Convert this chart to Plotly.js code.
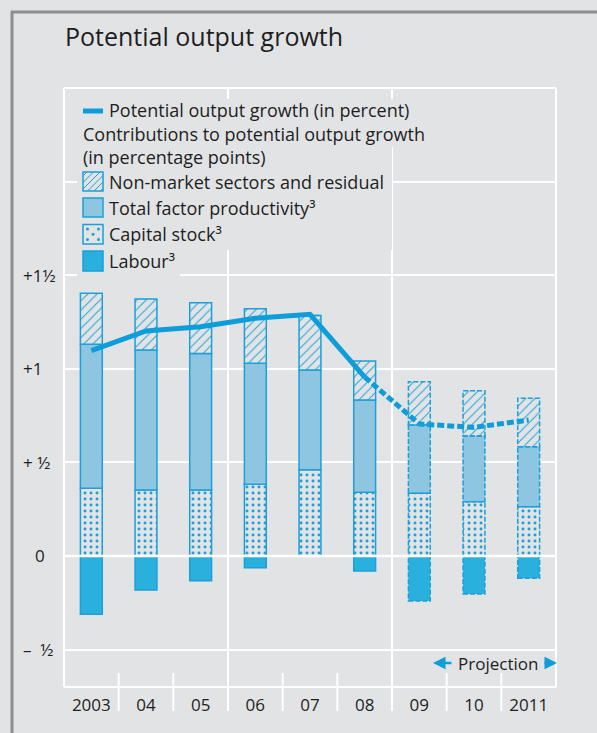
<!DOCTYPE html>
<html>
<head>
<meta charset="utf-8">
<script src="https://cdn.plot.ly/plotly-3.0.1.min.js"></script>
<style>
  html, body { margin: 0; padding: 0; background: #e2e3e5; }
  #chart { width: 597px; height: 733px; }
</style>
</head>
<body>
<div id="chart"></div>
<script>
// ---- data ----
const years = ['2003', '04', '05', '06', '07', '08', '09', '10', '2011'];
const labour = [-0.311, -0.182, -0.132, -0.063, 0.0, -0.080, -0.240, -0.203, -0.119];
const capitalStock = [0.362, 0.353, 0.353, 0.383, 0.461, 0.340, 0.335, 0.290, 0.263];
const tfp = [0.769, 0.747, 0.728, 0.646, 0.533, 0.493, 0.365, 0.351, 0.321];
const nonMarket = [0.272, 0.273, 0.272, 0.292, 0.290, 0.209, 0.231, 0.242, 0.258];
const potentialGrowth = [1.097, 1.202, 1.225, 1.270, 1.291, 0.956, 0.705, 0.687, 0.726];
const firstProjection = 6;           // index of first projected year (2009)
const yTickVals = [-0.5, 0, 0.5, 1, 1.5];
const yTickText = ['\u2013  \u00bd', '0', '+ \u00bd', '+1', '+1\u00bd'];

// ---- style ----
const BG = '#e2e3e5';
const BLUE = '#1ba0d9';
const LINEBLUE = '#0d9dd8';
const LABOUR = '#2ab0dd';
const TFPC = '#8ec5e0';
const TXT = '#1e1e1e';
const FONT = 'Open Sans, Noto Sans, sans-serif';
const W = 597, H = 733;
const M = {l: 64, r: 41, t: 88, b: 46};
const PW = W - M.l - M.r, PH = H - M.t - M.b;
const BARW = 0.4;
const px2x = px => (px - M.l) / PW;
const py2y = py => (H - M.b - py) / PH;

const n = years.length;
const lineW = years.map((_, i) => i >= firstProjection ? 0 : 1.5);

const traces = [
  {type: 'bar', name: 'Capital stock', x: years, y: capitalStock, width: BARW,
   marker: {color: BG, line: {color: BLUE, width: lineW},
            pattern: {shape: '.', fgcolor: BLUE, bgcolor: BG, size: 6, solidity: 0.19, fillmode: 'replace'}},
   hoverinfo: 'skip'},
  {type: 'bar', name: 'Total factor productivity', x: years, y: tfp, width: BARW,
   marker: {color: TFPC, line: {color: BLUE, width: lineW}}, hoverinfo: 'skip'},
  {type: 'bar', name: 'Non-market sectors and residual', x: years, y: nonMarket, width: BARW,
   marker: {color: BG, line: {color: BLUE, width: lineW},
            pattern: {shape: '/', fgcolor: BLUE, bgcolor: BG, size: 6.5, solidity: 0.15, fillmode: 'replace'}},
   hoverinfo: 'skip'},
  {type: 'bar', name: 'Labour', x: years, y: labour, width: BARW,
   marker: {color: LABOUR, line: {color: BLUE, width: lineW}}, hoverinfo: 'skip'},
  {type: 'scatter', mode: 'lines', x: years.slice(0, firstProjection), y: potentialGrowth.slice(0, firstProjection),
   line: {color: LINEBLUE, width: 5}, hoverinfo: 'skip'},
  {type: 'scatter', mode: 'lines', x: years.slice(firstProjection - 1), y: potentialGrowth.slice(firstProjection - 1),
   line: {color: LINEBLUE, width: 5, dash: '7px,3px'}, hoverinfo: 'skip'}
];

const shapes = [];
const annotations = [];

// dashed outlines for projected bars
for (let i = firstProjection; i < n; i++) {
  const c = capitalStock[i], t = c + tfp[i], m = t + nonMarket[i];
  const segs = [[0, c], [c, t], [t, m], [labour[i], 0]];
  segs.forEach(s => {
    if (s[0] === s[1]) return;
    shapes.push({type: 'rect', xref: 'x', yref: 'y', x0: i - BARW / 2, x1: i + BARW / 2, y0: s[0], y1: s[1],
                 line: {color: BLUE, width: 1.5, dash: '5px,2px'}, layer: 'above'});
  });
}

// white zero line over the bars
shapes.push({type: 'line', xref: 'paper', yref: 'y', x0: 0, x1: 1, y0: 0, y1: 0,
             line: {color: 'white', width: 2.5}, layer: 'above'});

// plot frame
const white = {color: 'white', width: 2};
shapes.push({type: 'line', xref: 'paper', yref: 'paper', x0: 0, x1: 0, y0: 0, y1: 1, line: white, layer: 'below'});
shapes.push({type: 'line', xref: 'paper', yref: 'paper', x0: 1, x1: 1, y0: 0, y1: 1, line: white, layer: 'below'});
shapes.push({type: 'line', xref: 'paper', yref: 'paper', x0: 0, x1: 1, y0: 0, y1: 0, line: white, layer: 'below'});
shapes.push({type: 'line', xref: 'paper', yref: 'paper', x0: 0, x1: 1, y0: 1, y1: 1, line: white, layer: 'below'});
// category separators
for (let i = 0; i < n - 1; i++) {
  const full = (i + 1) % 3 === 0;
  shapes.push({type: 'line', xref: 'x', yref: 'paper', x0: i + 0.5, x1: i + 0.5,
               y0: full ? 1 : py2y(673), y1: py2y(711), line: white, layer: 'below'});
}

// panel border (grey)
shapes.push({type: 'line', xref: 'paper', yref: 'paper', x0: px2x(12), x1: px2x(12), y0: py2y(11), y1: py2y(740),
             line: {color: '#8d8e90', width: 3}, layer: 'above'});
shapes.push({type: 'line', xref: 'paper', yref: 'paper', x0: px2x(11), x1: px2x(600), y0: py2y(12), y1: py2y(12),
             line: {color: '#8d8e90', width: 3}, layer: 'above'});

// ---- legend (drawn by hand) ----
function rectPx(x0, y0, x1, y1, fill, line) {
  shapes.push({type: 'rect', xref: 'paper', yref: 'paper', x0: px2x(x0), x1: px2x(x1), y0: py2y(y0), y1: py2y(y1),
               fillcolor: fill, line: line || {width: 0}, layer: 'above'});
}
rectPx(77, 99, 442, 147, BG);
rectPx(77, 147, 392, 250, BG);
rectPx(77, 250, 180, 280, BG);

const SX0 = 83, SX1 = 103;
rectPx(SX0, 108.5, SX1, 113.5, LINEBLUE);
// hatch
const hy0 = 172, hy1 = 191;
rectPx(SX0, hy0, SX1, hy1, BG, {color: BLUE, width: 1.5});
let hp = '';
for (let c = SX0 + hy0 + 4; c < SX1 + hy1; c += 6.5) {
  const xa = Math.max(SX0, c - hy1), xb = Math.min(SX1, c - hy0);
  if (xb <= xa) continue;
  hp += 'M' + px2x(xa) + ',' + py2y(c - xa) + 'L' + px2x(xb) + ',' + py2y(c - xb);
}
shapes.push({type: 'path', xref: 'paper', yref: 'paper', path: hp, line: {color: BLUE, width: 1}, layer: 'above'});
// tfp
rectPx(SX0, 198, SX1, 217, TFPC, {color: BLUE, width: 1.5});
// capital (dots)
rectPx(SX0, 224.5, SX1, 244, BG, {color: BLUE, width: 1.5});
[[87.5, 229], [98.5, 229], [93, 234.3], [87.5, 239.5], [98.5, 239.5]].forEach(d => {
  shapes.push({type: 'circle', xref: 'paper', yref: 'paper', x0: px2x(d[0] - 1.5), x1: px2x(d[0] + 1.5),
               y0: py2y(d[1] - 1.5), y1: py2y(d[1] + 1.5), fillcolor: BLUE, line: {width: 0}, layer: 'above'});
});
// labour
rectPx(SX0, 251, SX1, 271, LABOUR, {color: BLUE, width: 1.5});

const LFS = 18;
function textPx(x, y, text, size, extra) {
  annotations.push(Object.assign({xref: 'paper', yref: 'paper', x: px2x(x), y: py2y(y), xanchor: 'left', yanchor: 'middle',
    align: 'left', borderpad: 0, text: text, showarrow: false, font: {family: FONT, size: size || LFS, color: TXT}}, extra || {}));
}
textPx(108, 110.5, 'Potential output growth (in percent)');
textPx(82, 146, 'Contributions to potential output growth<br>(in percentage points)');
textPx(108, 181.5, 'Non-market sectors and residual');
textPx(108, 207.5, 'Total factor productivity\u00b3');
textPx(108, 234, 'Capital stock\u00b3');
textPx(108, 260.5, 'Labour\u00b3');

// title
textPx(64, 36, 'Potential output growth', 25);

// y tick labels
yTickVals.forEach((v, i) => {
  annotations.push({xref: 'paper', yref: 'y', x: px2x(yTickText[i] === '0' ? 33 : 21), y: v, xanchor: 'left', yanchor: 'middle',
    text: yTickText[i], showarrow: false, font: {family: FONT, size: 17, color: TXT}});
});

// projection marker
annotations.push({xref: 'paper', yref: 'paper', x: px2x(497.5), y: py2y(663), xanchor: 'center', yanchor: 'middle', showarrow: false,
  text: 'Projection', font: {family: FONT, size: 17, color: TXT}});
[[433, 20], [557, -14]].forEach(a => {
  annotations.push({xref: 'paper', yref: 'paper', x: px2x(a[0]), y: py2y(663), ax: a[1], ay: 0, text: '',
    showarrow: true, arrowhead: 2, arrowsize: 1, arrowwidth: 2.5, arrowcolor: LINEBLUE, standoff: 0});
});

const layout = {
  width: W, height: H,
  margin: M,
  paper_bgcolor: BG, plot_bgcolor: BG,
  barmode: 'relative',
  showlegend: false,
  xaxis: {type: 'category', range: [-0.5, n - 0.5], showgrid: false, zeroline: false, showline: false, ticks: '',
          tickfont: {family: FONT, size: 17, color: TXT}, ticklabelstandoff: 6, fixedrange: true},
  yaxis: {range: [-0.70, 2.5], tickvals: [-0.5, 0, 0.5, 1, 1.5, 2], showticklabels: false,
          gridcolor: 'white', gridwidth: 2, zeroline: false, showline: false, fixedrange: true},
  shapes: shapes,
  annotations: annotations
};

Plotly.newPlot('chart', traces, layout, {displayModeBar: false, staticPlot: true});
</script>
</body>
</html>
